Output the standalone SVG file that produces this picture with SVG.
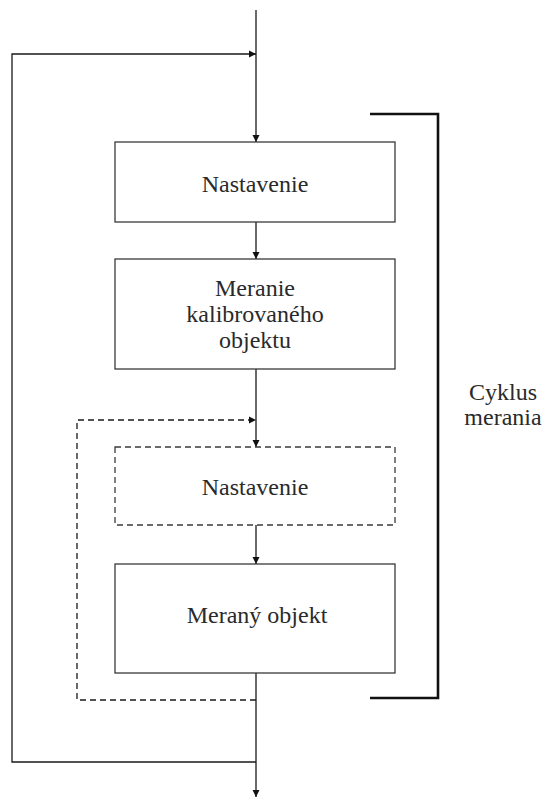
<svg xmlns="http://www.w3.org/2000/svg" width="543" height="799" viewBox="0 0 543 799">
  <style>
    .box { fill: #fff; stroke: #3a3a3a; stroke-width: 1.3; }
    .dash { stroke-dasharray: 6 4; }
    .line { fill: none; stroke: #1a1a1a; stroke-width: 1.3; }
    .bracket { fill: none; stroke: #111; stroke-width: 2.6; }
    .lbl { font-family: "Liberation Serif", "Times New Roman", serif; font-size: 24px; fill: #2a2a2a; text-anchor: middle; }
  </style>
  <defs>
    <marker id="arr" viewBox="0 0 10 10" refX="10" refY="5" markerWidth="7.5" markerHeight="7.5" markerUnits="userSpaceOnUse" orient="auto">
      <path d="M0,0 L10,5 L0,10 Z" fill="#111"/>
    </marker>
  </defs>
  <rect width="543" height="799" fill="#fff"/>

  <g id="connectors">
    <!-- main flow -->
    <line class="line" x1="256" y1="10" x2="256" y2="142" marker-end="url(#arr)"/>
    <line class="line" x1="256" y1="222" x2="256" y2="259" marker-end="url(#arr)"/>
    <line class="line" x1="256" y1="369" x2="256" y2="447" marker-end="url(#arr)"/>
    <line class="line" x1="256" y1="525" x2="256" y2="564" marker-end="url(#arr)"/>
    <line class="line" x1="256" y1="673" x2="256" y2="797" marker-end="url(#arr)"/>
    <!-- outer return loop -->
    <polyline class="line" points="256,762 12,762 12,54 256,54" marker-end="url(#arr)"/>
    <!-- inner dashed return loop -->
    <polyline class="line dash" points="256,700 77,700 77,420 256,420" marker-end="url(#arr)"/>
    <!-- bracket -->
    <polyline class="bracket" points="370,114 438,114 438,698 370,698"/>
  </g>

  <g id="n1">
    <rect class="box" x="115" y="142" width="280" height="80"/>
    <text class="lbl" x="255" y="192">Nastavenie</text>
  </g>
  <g id="n2">
    <rect class="box" x="115" y="259" width="280" height="110"/>
    <text class="lbl" x="255" y="296">Meranie</text>
    <text class="lbl" x="255" y="322">kalibrovaného</text>
    <text class="lbl" x="255" y="348">objektu</text>
  </g>
  <g id="n3">
    <rect class="box dash" x="115" y="447" width="280" height="78"/>
    <text class="lbl" x="255" y="495">Nastavenie</text>
  </g>
  <g id="n4">
    <rect class="box" x="115" y="564" width="280" height="109"/>
    <text class="lbl" x="257" y="623">Meraný objekt</text>
  </g>
  <g id="cycle-label">
    <text class="lbl" x="503" y="400">Cyklus</text>
    <text class="lbl" x="503" y="425">merania</text>
  </g>
</svg>
